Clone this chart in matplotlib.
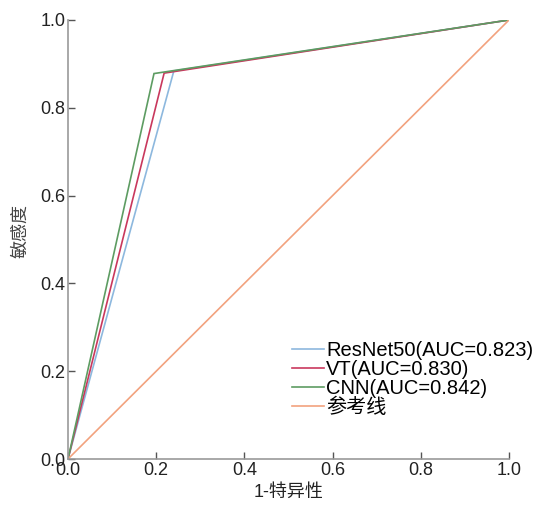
import matplotlib
matplotlib.use("Agg")
import matplotlib.pyplot as plt

plt.rcParams['font.family'] = ['Liberation Sans', 'Noto Sans CJK SC', 'DejaVu Sans']

labels = ["ResNet50(AUC=0.823)", "VT(AUC=0.830)", "CNN(AUC=0.842)", "参考线"]
colors = ["#8db8de", "#c9385d", "#5d9c62", "#f2a27e"]
fpr = {
    "ResNet50": [0.0, 0.240, 1.0],
    "VT": [0.0, 0.218, 1.0],
    "CNN": [0.0, 0.195, 1.0],
    "ref": [0.0, 1.0],
}
tpr = {
    "ResNet50": [0.0, 0.884, 1.0],
    "VT": [0.0, 0.879, 1.0],
    "CNN": [0.0, 0.878, 1.0],
    "ref": [0.0, 1.0],
}
ticks = [0.0, 0.2, 0.4, 0.6, 0.8, 1.0]

fig = plt.figure(figsize=(5.41, 5.09), dpi=100)
ax = fig.add_axes([68/541, 1-459/509, 441/541, 439/509])
for key, lab, c in zip(["ResNet50", "VT", "CNN", "ref"], labels, colors):
    ax.plot(fpr[key], tpr[key], color=c, lw=1.2, label=lab, solid_joinstyle='miter')

ax.set_xlim(0, 1)
ax.set_ylim(0, 1)
ax.set_xticks(ticks)
ax.set_yticks(ticks)
ax.set_xticklabels([f"{t:.1f}" for t in ticks])
ax.set_yticklabels([f"{t:.1f}" for t in ticks])
for s in ["top", "right"]:
    ax.spines[s].set_visible(False)
for s in ["left", "bottom"]:
    ax.spines[s].set_color("#999999")
    ax.spines[s].set_linewidth(1.2)
ax.tick_params(direction="in", length=5, width=1, color="#555555", labelsize=13,
               labelcolor="#222222", pad=2)
ax.set_xlabel("1-特异性", fontsize=13, color="#222222", labelpad=4)
ax.set_ylabel("敏感度", fontsize=13, color="#444444")
ax.yaxis.set_label_coords(-0.088, 0.52)
ax.legend(loc="upper left", bbox_to_anchor=(292/541, 1-341/509), bbox_transform=fig.transFigure,
          frameon=False, fontsize=14.5, handlelength=1.6, handletextpad=0.1,
          labelspacing=0.0, borderaxespad=0, borderpad=0)
fig.savefig("out.png", dpi=100)
